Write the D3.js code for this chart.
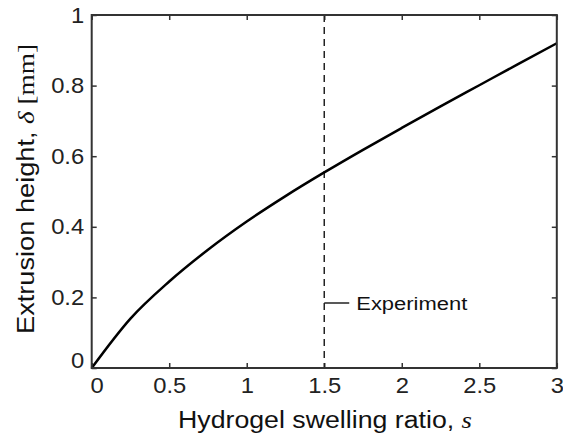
<!DOCTYPE html>
<html><head><meta charset="utf-8">
<script src="https://cdn.jsdelivr.net/npm/d3@7"></script>
<style>body{margin:0;background:#fff;}svg{display:block;}</style>
</head><body>
<script>
const sValues = [0, 0.25, 0.5, 0.75, 1.0, 1.25, 1.5, 1.75, 2.0, 2.25, 2.5, 2.75, 3.0];
const deltaValues = [0, 0.14, 0.245, 0.335, 0.415, 0.487, 0.554, 0.618, 0.68, 0.741, 0.801, 0.861, 0.92];
const xTicks = [0, 0.5, 1, 1.5, 2, 2.5, 3];
const yTicks = [0, 0.2, 0.4, 0.6, 0.8, 1];
const experimentS = [1.5];
const experimentLabel = ["Experiment"];

const W = 563, H = 438;
const L = 91.7, R = 556.8, T = 15, B = 368;
const svg = d3.select("body").append("svg").attr("width", W).attr("height", H);
const x = d3.scaleLinear().domain([0, 3]).range([L, R]);
const y = d3.scaleLinear().domain([0, 1]).range([B, T]);
const fmt = d => d === 0 ? "0" : String(d);
const font = "Liberation Sans, Arial, Helvetica, sans-serif";

function styleAxis(g, labels, zeroShift) {
  g.select(".domain").remove();
  g.selectAll(".tick line").attr("stroke", "#333").attr("stroke-width", 1.5);
  g.selectAll(".tick text").attr("font-family", font).attr("font-size", 22).attr("fill", "#222")
    .attr("transform", d => (d === 0 && zeroShift ? `translate(${zeroShift[0]},${zeroShift[1]}) ` : "") + "scale(1.08,1)");
  if (!labels) g.selectAll(".tick text").remove();
}
svg.append("g").attr("transform", `translate(0,${B})`)
  .call(d3.axisBottom(x).tickValues(xTicks).tickFormat(fmt).tickSizeInner(-5).tickPadding(9))
  .call(g => styleAxis(g, true, [5, 0]));
svg.append("g").attr("transform", `translate(0,${T})`)
  .call(d3.axisTop(x).tickValues(xTicks).tickSizeInner(-5))
  .call(g => styleAxis(g, false));
svg.append("g").attr("transform", `translate(${L},0)`)
  .call(d3.axisLeft(y).tickValues(yTicks).tickFormat(fmt).tickSizeInner(-5).tickPadding(7))
  .call(g => styleAxis(g, true, [0, -8]));
svg.append("g").attr("transform", `translate(${R},0)`)
  .call(d3.axisRight(y).tickValues(yTicks).tickSizeInner(-5))
  .call(g => styleAxis(g, false));

// dashed experiment line
svg.selectAll("line.exp").data(experimentS).enter().append("line")
  .attr("x1", d => x(d)).attr("x2", d => x(d))
  .attr("y1", y(1)).attr("y2", y(0))
  .attr("stroke", "#222").attr("stroke-width", 1.5).attr("stroke-dasharray", "7,5");
svg.append("line").attr("x1", x(1.5)).attr("x2", x(1.5) + 25)
  .attr("y1", 303).attr("y2", 303).attr("stroke", "#222").attr("stroke-width", 1.5);
svg.append("text").attr("x", x(1.5) + 32).attr("y", 309.5)
  .attr("font-family", font).attr("font-size", 18).attr("fill", "#111")
  .attr("textLength", 111).attr("lengthAdjust", "spacingAndGlyphs").text(experimentLabel[0]);

// curve
const pts = sValues.map((s, i) => [s, deltaValues[i]]);
svg.append("path").datum(pts)
  .attr("d", d3.line().x(d => x(d[0])).y(d => y(d[1])).curve(d3.curveMonotoneX))
  .attr("fill", "none").attr("stroke", "#000").attr("stroke-width", 2.5);

// frame
svg.append("rect").attr("x", L).attr("y", T).attr("width", R - L).attr("height", B - T)
  .attr("fill", "none").attr("stroke", "#333").attr("stroke-width", 2);

// axis titles
const serif = "Liberation Serif, Times New Roman, serif";
const xt = svg.append("text").attr("x", 178).attr("y", 428)
  .attr("font-family", font).attr("font-size", 23).attr("fill", "#111")
  .attr("textLength", 294).attr("lengthAdjust", "spacingAndGlyphs");
xt.append("tspan").text("Hydrogel swelling ratio, ");
xt.append("tspan").attr("font-family", serif).attr("font-style", "italic").text("s");

const yt = svg.append("text").attr("transform", `translate(34,334) rotate(-90)`)
  .attr("font-family", font).attr("font-size", 23).attr("fill", "#111")
  .attr("textLength", 290).attr("lengthAdjust", "spacingAndGlyphs");
yt.append("tspan").text("Extrusion height, ");
yt.append("tspan").attr("font-family", serif).attr("font-style", "italic").text("δ");
yt.append("tspan").attr("font-family", serif).text(" [mm]");
</script>
</body></html>
